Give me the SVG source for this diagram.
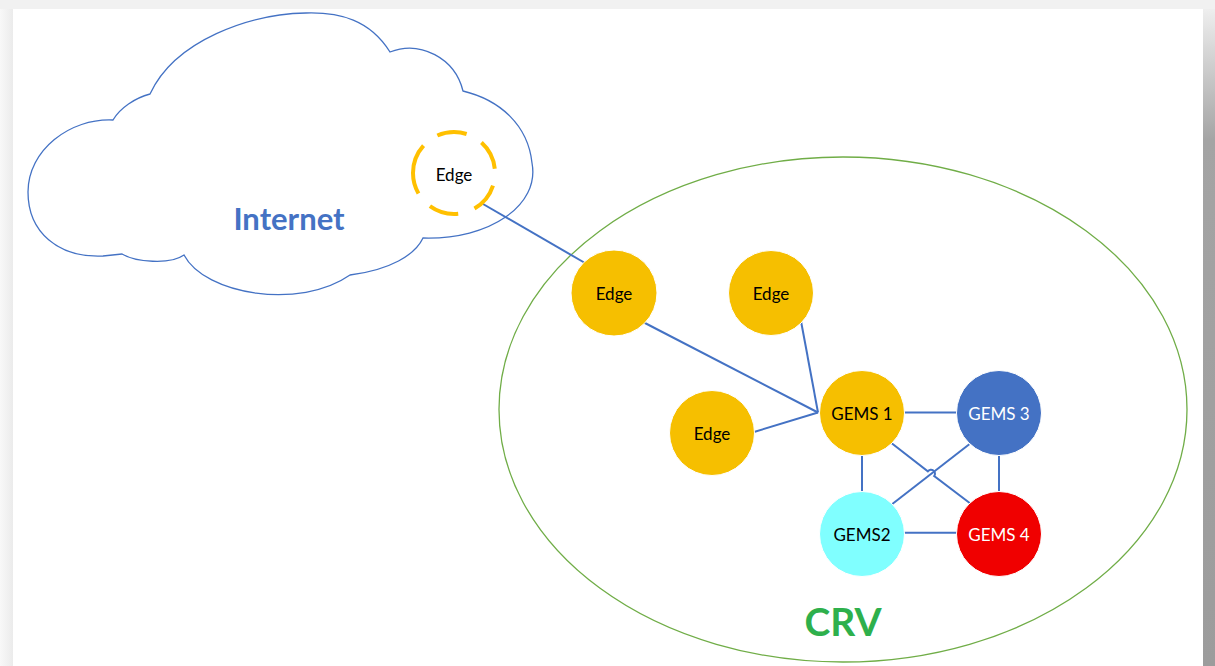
<svg xmlns="http://www.w3.org/2000/svg" width="1215" height="666" viewBox="0 0 1215 666">
<defs>
<linearGradient id="rshadow" x1="0" y1="0" x2="0" y2="1" gradientUnits="objectBoundingBox">
<stop offset="0" stop-color="#eeeeee"/>
<stop offset="0.2" stop-color="#a4a4a4"/>
<stop offset="1" stop-color="#9c9c9c"/>
</linearGradient>
<linearGradient id="lshadow" x1="0" y1="0" x2="1" y2="0">
<stop offset="0" stop-color="#f8f8f8"/>
<stop offset="1" stop-color="#ebebeb"/>
</linearGradient>
<style>
.conn{stroke:#4472C4;stroke-width:2;fill:none}
.node{stroke:#ffffff;stroke-width:1}
.lbl{font-family:Lato,"Open Sans","Liberation Sans",sans-serif;font-size:17px;text-anchor:middle;dominant-baseline:central}
.dark{fill:#000000}
.light{fill:#ffffff}
</style>
</defs>
<rect x="0" y="0" width="1215" height="666" fill="#f1f1f1"/>
<rect x="0" y="9" width="13" height="657" fill="url(#lshadow)"/>
<rect x="1203" y="9" width="12" height="657" fill="url(#rshadow)"/>
<rect x="13" y="9" width="1190" height="657" fill="#ffffff"/>

<g id="internet-cloud">
<path d="M113,120 C70,118 28,150 28,192 C28,232 58,258 103,256 L122,254 C135,262 170,265 184,255 C205,295 300,310 350,275 C390,270 415,255 423,238 C490,240 540,205 532,163 C528,125 500,100 463,91 C455,58 420,40 390,52 C370,20 340,12 306,13 C250,14 175,40 150,94 C135,98 120,108 113,120 Z" fill="none" stroke="#4472C4" stroke-width="1.3"/>
<text x="289" y="218" font-family="Lato,'Open Sans','Liberation Sans',sans-serif" font-size="31" font-weight="bold" fill="#4472C4" text-anchor="middle" dominant-baseline="central">Internet</text>
</g>

<g id="crv">
<ellipse cx="843" cy="409.5" rx="344" ry="252.5" fill="none" stroke="#70AD47" stroke-width="1.3"/>
<text x="843" y="621" font-family="Lato,'Open Sans','Liberation Sans',sans-serif" font-size="39" font-weight="bold" fill="#2EB04C" text-anchor="middle" dominant-baseline="central">CRV</text>
</g>

<g id="connectors">
<line class="conn" x1="483" y1="204" x2="585" y2="263"/>
<line class="conn" x1="643" y1="322" x2="818" y2="412.5"/>
<line class="conn" x1="801" y1="321" x2="818" y2="412.5"/>
<line class="conn" x1="754" y1="432" x2="818" y2="412.5"/>
<line class="conn" x1="904" y1="412.5" x2="957" y2="412.5"/>
<line class="conn" x1="862" y1="455.5" x2="862" y2="491.5"/>
<line class="conn" x1="999" y1="455.5" x2="999" y2="491.5"/>
<line class="conn" x1="904" y1="532.7" x2="957" y2="532.7"/>
<path class="conn" d="M891.7,443.3 L927.8,471.3 A4,4 0 0 1 934.2,476.1 L970,503.3"/>
<line class="conn" x1="969.3" y1="444.3" x2="892.3" y2="504"/>
</g>

<g id="edge-internet">
<path d="M413,173 A41,41 0 1 1 495,173 A41,41 0 1 1 413,173" pathLength="360" fill="none" stroke="#FFC000" stroke-width="4" stroke-dasharray="42 24"/>
<text class="lbl dark" x="454" y="174">Edge</text>
</g>
<g id="edge-a">
<circle class="node" cx="614" cy="293" r="43" fill="#F6BF00"/>
<text class="lbl dark" x="614" y="293">Edge</text>
</g>
<g id="edge-b">
<circle class="node" cx="771" cy="293" r="42.5" fill="#F6BF00"/>
<text class="lbl dark" x="771" y="293">Edge</text>
</g>
<g id="edge-c">
<circle class="node" cx="712" cy="433" r="42.5" fill="#F6BF00"/>
<text class="lbl dark" x="712" y="433">Edge</text>
</g>
<g id="gems1">
<circle class="node" cx="862" cy="413" r="42.5" fill="#F6BF00"/>
<text class="lbl dark" x="862" y="413">GEMS 1</text>
</g>
<g id="gems3">
<circle class="node" cx="999" cy="413" r="42.5" fill="#4472C4"/>
<text class="lbl light" x="999" y="413">GEMS 3</text>
</g>
<g id="gems2">
<circle class="node" cx="862" cy="534" r="42.5" fill="#80FFFF"/>
<text class="lbl dark" x="862" y="534">GEMS2</text>
</g>
<g id="gems4">
<circle class="node" cx="999" cy="534" r="42.5" fill="#F00000"/>
<text class="lbl light" x="999" y="534">GEMS 4</text>
</g>
</svg>
